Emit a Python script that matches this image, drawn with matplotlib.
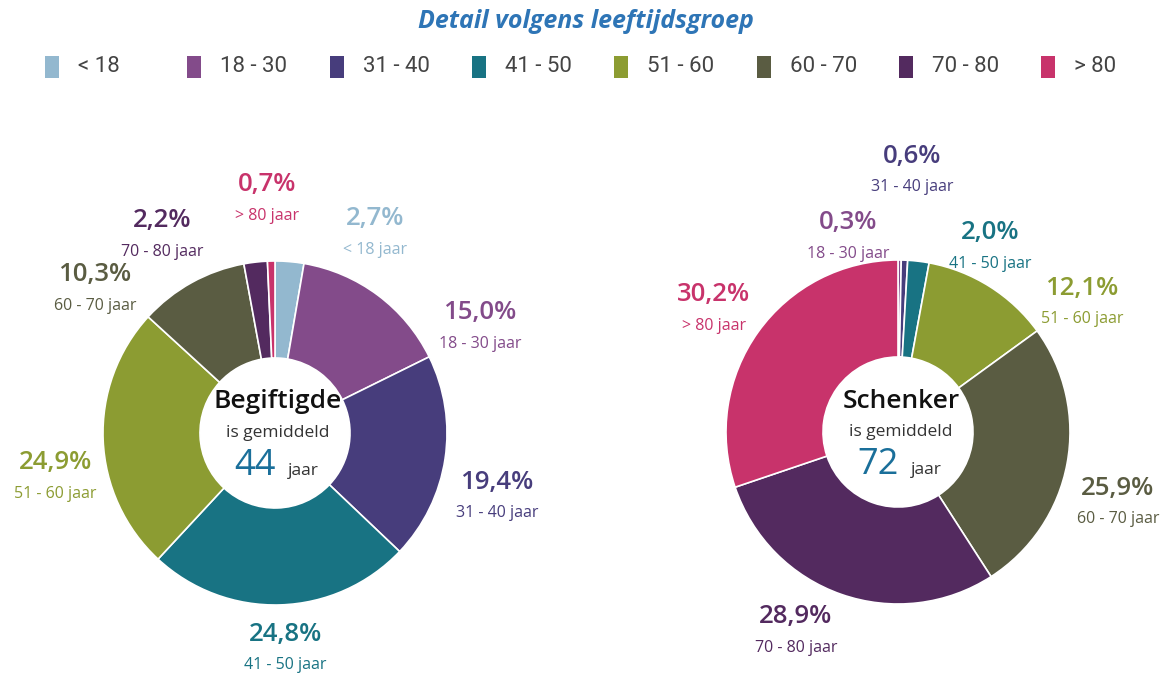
import matplotlib.pyplot as plt
from matplotlib.patches import Rectangle

# age groups and shares (%)
groups = ['< 18', '18 - 30', '31 - 40', '41 - 50', '51 - 60', '60 - 70', '70 - 80', '> 80']
colors = ['#93b8cf', '#834b8a', '#473d7c', '#187383', '#8c9c32', '#5a5c42', '#532a5f', '#c8336b']
begiftigde = [2.7, 15.0, 19.4, 24.8, 24.9, 10.3, 2.2, 0.7]
schenker = [0.0, 0.3, 0.6, 2.0, 12.1, 25.9, 28.9, 30.2]
avg_age = {'Begiftigde': 44, 'Schenker': 72}

W, H = 1168, 673
fig = plt.figure(figsize=(W / 100, H / 100), dpi=100)
ax = fig.add_axes([0, 0, 1, 1])

font = 'Open Sans'

def py(y):
    # pixel row -> data y
    return H - y

# label positions (pixel coords of percent text) per donut, None = no label
pos_left = [(375, 219), (480, 313), (497, 482), (285, 634), (55, 463), (95, 275), (162, 221), (267, 185)]
pos_right = [None, (848, 223), (912, 156), (990, 233), (1082, 288), (1118, 488), (796, 617), (714, 295)]

def donut(vals, cx, cy, positions, name):
    ax.pie(vals, colors=colors, center=(cx, py(cy)), radius=172, startangle=90,
           counterclock=False, frame=True,
           wedgeprops=dict(width=97, edgecolor='white', linewidth=1.2))
    for v, g, c, p in zip(vals, groups, colors, positions):
        if p is None:
            continue
        x, y = p
        ax.text(x, py(y), ('%.1f%%' % v).replace('.', ','), color=c, fontsize=18.5,
                fontweight='semibold', ha='center', va='center', family=font)
        ax.text(x, py(y + 31), g + ' jaar', color=c, fontsize=11.5,
                ha='center', va='center', family=font)
    ax.text(cx + 3, py(cy - 31), name, fontsize=19, fontweight='semibold', ha='center',
            va='center', color='#111111', family=font)
    ax.text(cx + 3, py(cy), 'is gemiddeld', fontsize=12.5, ha='center', va='center',
            color='#333333', family=font)
    ax.text(cx - 20, py(cy + 33), str(avg_age[name]), fontsize=26, ha='center', va='center',
            color='#1a6f9a', family=font)
    ax.text(cx + 28, py(cy + 38), 'jaar', fontsize=12.5, ha='center', va='center',
            color='#333333', family=font)

donut(begiftigde, 275, 433, pos_left, 'Begiftigde')
donut(schenker, 898, 432, pos_right, 'Schenker')
ax.set_xlim(0, W)
ax.set_ylim(0, H)
ax.set_aspect('equal')
ax.axis('off')

# title
ax.text(586, py(22), 'Detail volgens leeftijdsgroep', fontsize=18, color='#2e75b6',
        fontstyle='italic', fontweight='bold', ha='center', va='center', family=font)

# legend
for i, (g, c) in enumerate(zip(groups, colors)):
    x0 = 45 + i * 142.3
    ax.add_patch(Rectangle((x0, py(78)), 14, 22, facecolor=c, edgecolor='none'))
    ax.text(x0 + 33, py(67), g, fontsize=16, color='#444444',
            ha='left', va='center', family=['Liberation Sans Narrow', 'Roboto'])

fig.savefig('out.png', dpi=100)
